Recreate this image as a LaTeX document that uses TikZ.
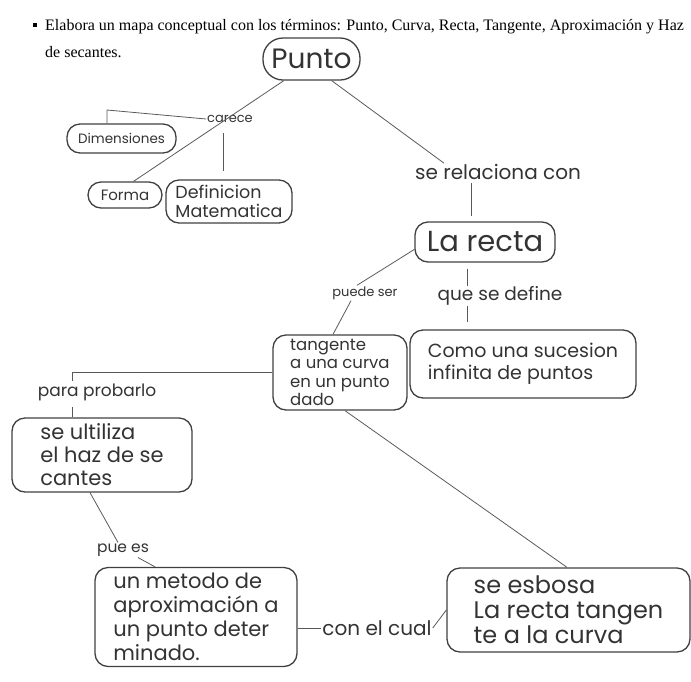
\documentclass[tikz,border=0pt]{standalone}
\usepackage{fontspec}
\setmainfont{Liberation Serif}
\newfontfamily\hw{Poppins}
\begin{document}
\begin{tikzpicture}[x=1pt,y=-1pt,
  box/.style={draw=black!75,line width=1.3pt,rounded corners=13pt,inner sep=3pt,font=\hw,text=black!80},
  lbl/.style={font=\hw,text=black!80,inner sep=1pt},
  conn/.style={draw=black!65,line width=0.8pt}]
\useasboundingbox (0,0) rectangle (691,681);
% header
\fill[black] (33,23) rectangle (37,27);
\node[anchor=base west,inner sep=0,font=\fontsize{16}{18}\selectfont] (hd1) at (45,30) {Elabora un mapa conceptual con los términos: Punto, Curva, Recta, Tangente, Aproximación y Haz};
\node[anchor=base west,inner sep=0,font=\fontsize{16}{18}\selectfont] (hd2) at (45,57) {de secantes.};
% nodes
\node[box,rounded corners=20pt,minimum width=97pt,minimum height=42pt,font=\hw\fontsize{28}{30}\selectfont] (punto) at (311.5,59) {Punto};
\node[box,minimum width=109pt,minimum height=29pt,font=\hw\fontsize{13.5}{15}\selectfont] (dim) at (121.5,138.5) {Dimensiones};
\node[box,minimum width=74pt,minimum height=26pt,font=\hw\fontsize{15}{16}\selectfont] (forma) at (125,195) {Forma};
\node[box,minimum width=126pt,minimum height=43pt,inner sep=1pt,align=left,font=\hw\fontsize{17.5}{19}\selectfont] (defmat) at (229,201.5) {Definicion\\Matematica};
\node[box,minimum width=140pt,minimum height=40pt,font=\hw\fontsize{29}{30}\selectfont] (recta) at (485,242) {La recta};
\node[box,minimum width=134pt,minimum height=75pt,inner sep=1pt,align=left,font=\hw\fontsize{16.5}{18.5}\selectfont] (tang) at (340,372.5) {tangente\\a una curva\\en un punto\\dado};
\node[box,minimum width=226pt,minimum height=68pt,align=left,font=\hw\fontsize{19}{22}\selectfont] (como) at (523,364) {Como una sucesion\\infinita de puntos};
\node[box,minimum width=180pt,minimum height=74pt,inner sep=1pt,align=left,font=\hw\fontsize{21}{23}\selectfont] (haz) at (102,455) {se ultiliza\\el haz de se\\cantes};
\node[box,minimum width=202pt,minimum height=99pt,inner sep=1pt,align=left,font=\hw\fontsize{21}{24}\selectfont] (metodo) at (196,617) {un metodo de\\aproximación a\\un punto deter\\minado.};
\node[box,minimum width=243pt,minimum height=84pt,inner sep=1pt,align=left,font=\hw\fontsize{24}{25}\selectfont] (esbosa) at (568.5,610) {se esbosa\\La recta tangen\\te a la curva};
% labels
\node[lbl,font=\hw\fontsize{13}{15}\selectfont] (carece) at (230,119) {carece};
\node[lbl,font=\hw\fontsize{20}{22}\selectfont] (serel) at (498,172) {se relaciona con};
\node[lbl,font=\hw\fontsize{13}{15}\selectfont] (puede) at (365,293) {puede ser};
\node[lbl,font=\hw\fontsize{17}{19}\selectfont] (para) at (97,392) {para probarlo};
\node[lbl,font=\hw\fontsize{15.5}{17}\selectfont] (puees) at (123,550) {pue es};
\node[lbl,font=\hw\fontsize{20}{22}\selectfont] (cual) at (377,628) {con el cual};
% connectors
\draw[conn] (punto.218) -- (forma.58);
\coordinate (dk) at (107,110);
\draw[conn] (carece.west) -- (dk) -- (dk |- dim.north);
\draw[conn] (223,133) -- (223,0 |- defmat.north) [shorten >=8pt];
\draw[conn] (punto.313) -- ([xshift=30pt]serel.north west);
\draw[conn] (471,183) -- (471,0 |- recta.north) [shorten >=5pt];
\draw[conn] ([yshift=-6pt]467,0 |- recta.south) -- ([yshift=7pt]467,0 |- como.north);
\draw[conn] (recta.186) -- ([xshift=-8pt]puede.north);
\draw[conn] ([xshift=-14pt]puede.south) -- (333,0 |- tang.north);
\draw[conn] (tang.west) -- (72,0 |- tang.west) -- ++(0,8);
\draw[conn] (72,407) -- (72,0 |- haz.north);
\draw[conn] (90,0 |- haz.south) -- ([xshift=-5pt]puees.north);
\draw[conn] ([xshift=15pt]puees.south) -- (155,0 |- metodo.north);
\draw[conn] (metodo.east |- cual.west) -- (cual.west);
\draw[conn] (cual.east) -- (esbosa.west);
\draw[conn] (345,0 |- tang.south) -- (567,0 |- esbosa.north);
\node[lbl,fill=white,font=\hw\fontsize{18.5}{20}\selectfont] (quese) at (500,296) {que se define};
\end{tikzpicture}
\end{document}
